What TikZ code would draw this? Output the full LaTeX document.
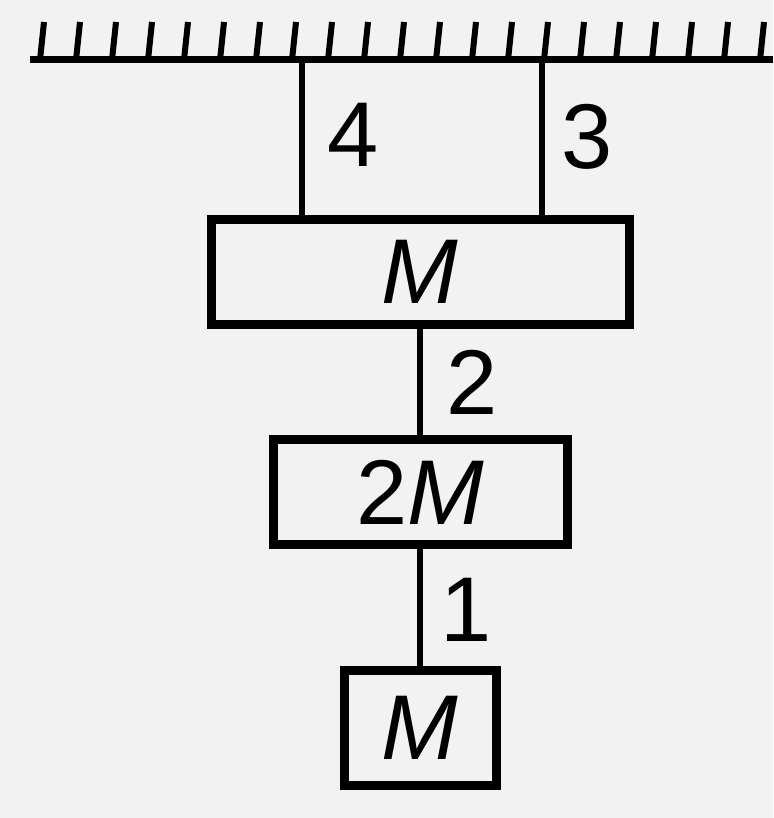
\documentclass[tikz,border=0pt]{standalone}
\usepackage{fontspec}
\setmainfont{Liberation Sans}
\usepackage{tikz}
\usetikzlibrary{positioning}
\definecolor{paper}{HTML}{F2F2F2}
\tikzstyle{block}=[draw,line width=9pt,inner sep=0pt,outer sep=0pt]
\tikzstyle{lbl}=[inner sep=0pt]
\tikzset{every picture/.style={line width=6pt}}

\begin{document}
\begin{tikzpicture}[x=1pt,y=-1pt,font=\fontsize{92}{92}\selectfont]
\fill[paper] (0,0) rectangle (773,818);
\useasboundingbox (0,0) rectangle (773,818);
% ceiling
\coordinate (L) at (30,60);
\coordinate (R) at (773,60);
\draw[line width=7pt] (L) -- (R);
\foreach \x in {42,78,...,762}
  \draw[line width=6pt] (\x-2,60) -- (\x+2,22);
% blocks
\node[block,minimum width=418pt,minimum height=105pt] (A) at (420,272) {\textit{M}};
\node[block,minimum width=294pt,minimum height=105pt] (B) at (420,492) {2\textit{M}};
\node[block,minimum width=152pt,minimum height=115pt] (C) at (420,728) {\textit{M}};
% strings
\coordinate (S4) at (302,60);
\coordinate (S3) at (542,60);
\draw (S4) -- (S4 |- A.north);
\draw (S3) -- (S3 |- A.north);
\draw (A.south) -- (B.north);
\draw (B.south) -- (C.north);
% labels
\node[lbl] (n4) at (353,135) {4};
\node[lbl] (n3) at (587,137) {3};
\node[lbl] (n2) at (472,382) {2};
\node[lbl] (n1) at (466,610) {1};
\end{tikzpicture}
\end{document}
